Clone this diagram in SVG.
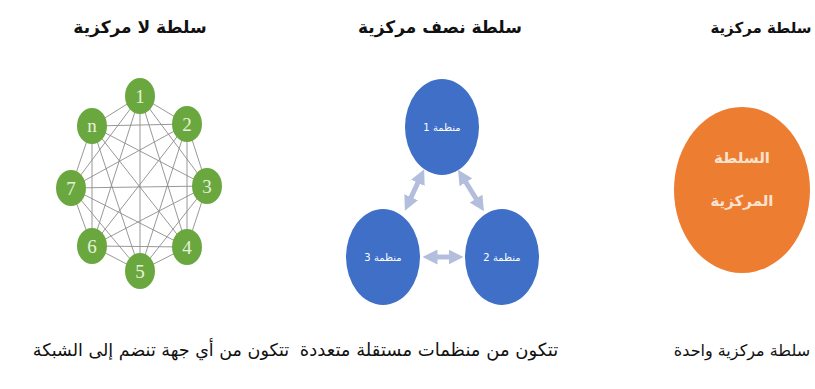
<svg xmlns="http://www.w3.org/2000/svg" width="815" height="389" viewBox="0 0 815 389">
<style>
.title{font-family:"DejaVu Sans",sans-serif;font-size:17px;font-weight:bold;fill:#111;text-anchor:middle}
.desc{font-family:"DejaVu Sans",sans-serif;font-size:18px;fill:#111;text-anchor:middle}
.gn{fill:#6aa83f}
.gt{font-family:"Liberation Serif",serif;font-size:19px;fill:#e6f2dc;text-anchor:middle}
.bn{fill:#3f6fc6}
.bt{font-family:"DejaVu Sans",sans-serif;font-size:10px;fill:#fff;text-anchor:middle}
.mesh line{stroke:#8c8c8c;stroke-width:0.9}
.arr{stroke:#b3bedc;stroke-width:5;fill:none}
.ct{font-family:"DejaVu Sans",sans-serif;font-size:15px;font-weight:bold;fill:#fbe3cf;text-anchor:middle}
</style>
<defs>
<marker id="ah" viewBox="0 0 10 10" refX="5" refY="5" markerWidth="3" markerHeight="3" orient="auto-start-reverse">
<path d="M0,0 L10,5 L0,10 z" fill="#b3bedc"/>
</marker>
</defs>
<rect width="815" height="389" fill="#fff"/>
<text class="title" x="140" y="33">سلطة لا مركزية</text>
<text class="title" x="440" y="33">سلطة نصف مركزية</text>
<text class="title" x="761" y="33" style="font-size:15px">سلطة مركزية</text>

<g id="connectors">
<g class="mesh">
<line x1="140" y1="96" x2="187" y2="124"/><line x1="140" y1="96" x2="207" y2="186"/><line x1="140" y1="96" x2="187" y2="247"/><line x1="140" y1="96" x2="140" y2="271"/><line x1="140" y1="96" x2="92" y2="246"/><line x1="140" y1="96" x2="71" y2="188"/><line x1="140" y1="96" x2="92" y2="126"/>
<line x1="187" y1="124" x2="207" y2="186"/><line x1="187" y1="124" x2="187" y2="247"/><line x1="187" y1="124" x2="140" y2="271"/><line x1="187" y1="124" x2="92" y2="246"/><line x1="187" y1="124" x2="71" y2="188"/><line x1="187" y1="124" x2="92" y2="126"/>
<line x1="207" y1="186" x2="187" y2="247"/><line x1="207" y1="186" x2="140" y2="271"/><line x1="207" y1="186" x2="92" y2="246"/><line x1="207" y1="186" x2="71" y2="188"/><line x1="207" y1="186" x2="92" y2="126"/>
<line x1="187" y1="247" x2="140" y2="271"/><line x1="187" y1="247" x2="92" y2="246"/><line x1="187" y1="247" x2="71" y2="188"/><line x1="187" y1="247" x2="92" y2="126"/>
<line x1="140" y1="271" x2="92" y2="246"/><line x1="140" y1="271" x2="71" y2="188"/><line x1="140" y1="271" x2="92" y2="126"/>
<line x1="92" y1="246" x2="71" y2="188"/><line x1="92" y1="246" x2="92" y2="126"/>
<line x1="71" y1="188" x2="92" y2="126"/>
</g>
<line class="arr" x1="421" y1="176" x2="408" y2="204" marker-start="url(#ah)" marker-end="url(#ah)"/>
<line class="arr" x1="462" y1="176" x2="480" y2="205" marker-start="url(#ah)" marker-end="url(#ah)"/>
<line class="arr" x1="430" y1="257" x2="456" y2="257" marker-start="url(#ah)" marker-end="url(#ah)"/>
</g>

<g id="g1"><ellipse class="gn" cx="140" cy="96" rx="15" ry="18"/><text class="gt" x="140" y="103">1</text></g>
<g id="g2"><ellipse class="gn" cx="187" cy="124" rx="15" ry="18"/><text class="gt" x="187" y="131">2</text></g>
<g id="g3"><ellipse class="gn" cx="207" cy="186" rx="15" ry="18"/><text class="gt" x="207" y="193">3</text></g>
<g id="g4"><ellipse class="gn" cx="187" cy="247" rx="15" ry="18"/><text class="gt" x="187" y="254">4</text></g>
<g id="g5"><ellipse class="gn" cx="140" cy="271" rx="15" ry="18"/><text class="gt" x="140" y="278">5</text></g>
<g id="g6"><ellipse class="gn" cx="92" cy="246" rx="15" ry="18"/><text class="gt" x="92" y="253">6</text></g>
<g id="g7"><ellipse class="gn" cx="71" cy="188" rx="15" ry="18"/><text class="gt" x="71" y="195">7</text></g>
<g id="gn"><ellipse class="gn" cx="92" cy="126" rx="15" ry="18"/><text class="gt" x="92" y="132">n</text></g>

<g id="b1"><ellipse class="bn" cx="442" cy="127" rx="37" ry="48"/><text class="bt" x="442" y="131">منظمة 1</text></g>
<g id="b2"><ellipse class="bn" cx="502" cy="257" rx="37" ry="48"/><text class="bt" x="502" y="261">منظمة 2</text></g>
<g id="b3"><ellipse class="bn" cx="383" cy="257" rx="37" ry="48"/><text class="bt" x="383" y="261">منظمة 3</text></g>

<g id="central"><ellipse cx="742" cy="190" rx="68" ry="83" fill="#ed7d31"/>
<text class="ct" x="742" y="163">السلطة</text>
<text class="ct" x="742" y="206">المركزية</text></g>

<text class="desc" x="161" y="356" style="font-size:17.5px">تتكون من أي جهة تنضم إلى الشبكة</text>
<text class="desc" x="429" y="356">تتكون من منظمات مستقلة متعددة</text>
<text class="desc" x="742" y="356" style="font-size:16px">سلطة مركزية واحدة</text>
</svg>
